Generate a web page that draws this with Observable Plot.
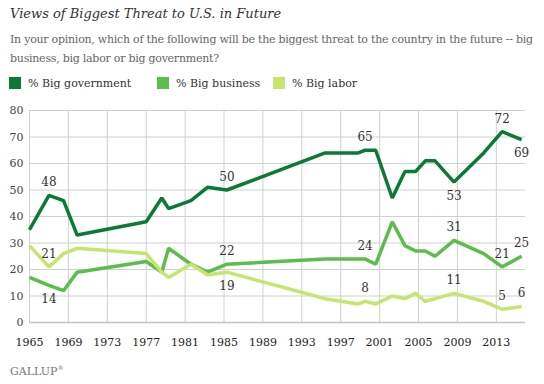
<!DOCTYPE html>
<html>
<head>
<meta charset="utf-8">
<script src="https://cdn.jsdelivr.net/npm/d3@7"></script>
<script src="https://cdn.jsdelivr.net/npm/@observablehq/plot@0.6"></script>
<style>
  html, body { margin: 0; padding: 0; background: #fff; }
  body { width: 544px; height: 384px; position: relative; overflow: hidden; font-family: 'DejaVu Serif', serif; }
  #title { position: absolute; left: 10px; top: 6px; font-size: 13px; font-style: italic; color: #333; }
  #subtitle { position: absolute; left: 10px; top: 30px; width: 534px; font-size: 11px; line-height: 19px; color: #666; letter-spacing: -0.25px; }
  #legend { position: absolute; left: 9px; top: 77px; font-size: 11px; color: #333; }
  .item { position: absolute; white-space: nowrap; top: 0; }
  .sw { display: inline-block; width: 12px; height: 12px; vertical-align: -2px; margin-right: 7px; }
  #chart { position: absolute; left: 0; top: 96px; }
  #logo { position: absolute; left: 10px; top: 364px; font-size: 11px; color: #777; }
</style>
</head>
<body>
<div id="title">Views of Biggest Threat to U.S. in Future</div>
<div id="subtitle">In your opinion, which of the following will be the biggest threat to the country in the future -- big business, big labor or big government?</div>
<div id="legend"></div>
<div id="chart"></div>
<div id="logo">GALLUP<sup style="font-size:6px">®</sup></div>
<script>
const seriesNames = ["% Big government", "% Big business", "% Big labor"];
const seriesColors = ["#0a7a36", "#5bbd4b", "#c6e56e"];
const years = [1965, 1967, 1968.5, 1969.9, 1977, 1978.6, 1979.3, 1981.6, 1983.3, 1985.3, 1995.4, 1998.8, 1999.5, 2000.6, 2002.3, 2003.6, 2004.7, 2005.7, 2006.7, 2008.65, 2011.7, 2013.6, 2015.6];
const bigGovernment = [35, 48, 46, 33, 38, 47, 43, 46, 51, 50, 64, 64, 65, 65, 47, 57, 57, 61, 61, 53, 64, 72, 69];
const bigBusiness   = [17, 14, 12, 19, 23, 19, 28, 22, 19, 22, 24, 24, 24, 22, 38, 29, 27, 27, 25, 31, 26, 21, 25];
const bigLabor      = [29, 21, 26, 28, 26, 19, 17, 22, 18, 19, 9, 7, 8, 7, 10, 9, 11, 8, 9, 11, 8, 5, 6];
const xTicks = [1965, 1969, 1973, 1977, 1981, 1985, 1989, 1993, 1997, 2001, 2005, 2009, 2013];
const yTicks = [0, 10, 20, 30, 40, 50, 60, 70, 80];
// labelled points: [series index, year index, placement]
const labelled = [
  [0, 1, "above"], [0, 9, "above"], [0, 12, "above"], [0, 19, "below"], [0, 21, "above"], [0, 22, "below"],
  [1, 1, "below"], [1, 9, "above"], [1, 12, "above"], [1, 19, "above"], [1, 21, "above"], [1, 22, "above"],
  [2, 1, "above"], [2, 9, "below"], [2, 12, "above"], [2, 19, "above"], [2, 21, "above"], [2, 22, "above"]
];

const allValues = [bigGovernment, bigBusiness, bigLabor];
const rows = [];
allValues.forEach((vals, s) => vals.forEach((v, i) => rows.push({series: seriesNames[s], year: years[i], value: v})));
const labels = labelled.map(([s, i, p]) => ({series: seriesNames[s], year: years[i], value: allValues[s][i], pos: p}));

// legend
const legend = document.getElementById("legend");
const legendX = [0, 148, 264];
seriesNames.forEach((n, i) => {
  const d = document.createElement("div");
  d.className = "item";
  d.style.left = legendX[i] + "px";
  d.innerHTML = `<span class="sw" style="background:${seriesColors[i]}"></span>${n}`;
  legend.appendChild(d);
});

const chart = Plot.plot({
  width: 544,
  height: 268,
  marginLeft: 29,
  marginRight: 19,
  marginTop: 14,
  marginBottom: 42,
  style: {fontFamily: "'DejaVu Serif', serif", fontSize: "11px", color: "#333", background: "#fff"},
  x: {domain: [1965, 2016], ticks: xTicks, tickFormat: d => String(d), tickSize: 0, tickPadding: 16, label: null},
  y: {domain: [0, 80], ticks: yTicks, tickSize: 0, tickPadding: 6, label: null},
  color: {domain: seriesNames, range: seriesColors},
  marks: [
    Plot.gridX(xTicks, {stroke: "#d0d0d0", strokeOpacity: 1, strokeWidth: 1}),
    Plot.gridY(yTicks, {stroke: "#d0d0d0", strokeOpacity: 1, strokeWidth: 1}),
    Plot.ruleY([0], {stroke: "#c4c4c4", strokeWidth: 1.5}),
    Plot.axisX({ticks: xTicks, tickFormat: d => String(d), tickSize: 0, tickPadding: 16, fill: "#222", fontSize: 11}),
    Plot.axisY({ticks: yTicks, tickSize: 0, tickPadding: 6, fill: "#444", fontSize: 11}),
    Plot.line(rows, {x: "year", y: "value", z: "series", stroke: "series", strokeWidth: 3.5, strokeLinejoin: "miter", strokeLinecap: "butt"}),
    Plot.text(labels.filter(d => d.pos === "above"), {x: "year", y: "value", text: d => String(d.value), dy: -13, fill: "#333", fontSize: 12}),
    Plot.text(labels.filter(d => d.pos === "below"), {x: "year", y: "value", text: d => String(d.value), dy: 14, fill: "#333", fontSize: 12})
  ]
});
document.getElementById("chart").appendChild(chart);
</script>
</body>
</html>
